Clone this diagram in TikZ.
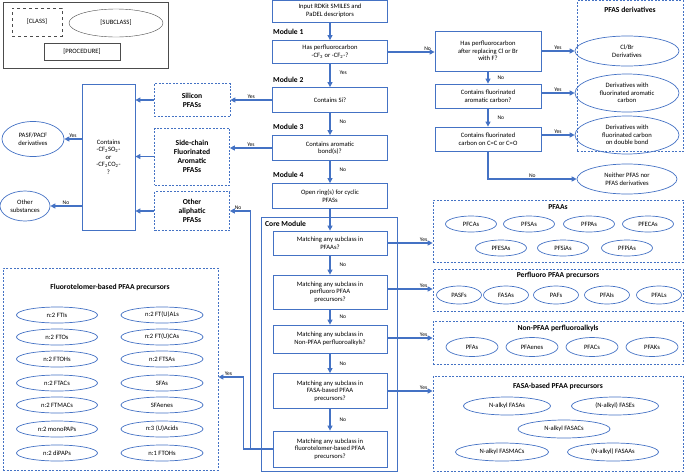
\documentclass[tikz,border=0pt]{standalone}
\usepackage{fontspec}
\setmainfont{Carlito}
\usetikzlibrary{arrows.meta,shapes.geometric}
\definecolor{bl}{RGB}{68,114,196}
\begin{document}
\begin{tikzpicture}[x=1pt,y=-1pt,
  every node/.style={font=\fontsize{6.6}{7.6}\selectfont,align=center,inner sep=1pt},
  box/.style={draw=bl,line width=0.8pt,rectangle},
  cls/.style={draw=bl,line width=0.7pt,dashed,dash pattern=on 2pt off 1.5pt,rectangle},
  el/.style={draw=bl,line width=0.7pt,ellipse,inner sep=0pt},
  hd/.style={font=\fontsize{7.6}{9}\selectfont\bfseries},
  ar/.style={draw=bl,line width=1.1pt,-{Triangle[width=5pt,length=5pt]}},
  lb/.style={font=\fontsize{5.6}{6.5}\selectfont}]
\useasboundingbox (0,0) rectangle (685,472);
% legend
\node[draw=black!70,line width=0.8pt,minimum width=165pt,minimum height=66pt] (lg) at (85.5,35) {};
\node[draw=black!70,dashed,minimum width=50pt,minimum height=28pt] (lc) at (37,22) {[CLASS]};
\node[draw=black!70,ellipse,minimum width=94pt,minimum height=28pt,inner sep=0pt] (ls) at (116,23) {[SUBCLASS]};
\node[draw=black!70,minimum width=76pt,minimum height=17pt] (lp) at (82,52) {[PROCEDURE]};
% main column
\node[box,minimum width=115pt,minimum height=22pt] (in) at (330,11) {Input RDKit SMILES and\\PaDEL descriptors};
\node[box,minimum width=115pt,minimum height=23pt] (m1) at (330,52) {Has perfluorocarbon\\-CF\textsubscript{3} or -CF\textsubscript{2}-?};
\node[box,minimum width=115pt,minimum height=25pt] (m2) at (330,100) {Contains Si?};
\node[box,minimum width=115pt,minimum height=25pt] (m3) at (330,148) {Contains aromatic\\bond(s)?};
\node[box,minimum width=115pt,minimum height=25pt] (m4) at (330,196) {Open ring(s) for cyclic\\PFASs};
\node[hd,anchor=west] (l1) at (272,32) {Module 1};
\node[hd,anchor=west] (l2) at (272,80) {Module 2};
\node[hd,anchor=west] (l3) at (272,127) {Module 3};
\node[hd,anchor=west] (l4) at (272,175) {Module 4};
\node[box,minimum width=136pt,minimum height=254pt] (core) at (329,344) {};
\node[hd,anchor=west] (lc5) at (264,224) {Core Module};
\node[box,minimum width=114pt,minimum height=24pt] (c1) at (330,243) {Matching any subclass in\\PFAAs?};
\node[box,minimum width=114pt,minimum height=34pt] (c2) at (330,292) {Matching any subclass in\\perfluoro PFAA\\precursors?};
\node[box,minimum width=114pt,minimum height=28pt] (c3) at (330,339) {Matching any subclass in\\Non-PFAA perfluoroalkyls?};
\node[box,minimum width=114pt,minimum height=35pt] (c4) at (330,391) {Matching any subclass in\\FASA-based PFAA\\precursors?};
\node[box,minimum width=114pt,minimum height=36pt] (c5) at (330,449) {Matching any subclass in\\fluorotelomer-based PFAA\\precursors?};
\draw[ar] (in) -- (m1);
\draw[ar] (m1) -- node[lb,right,pos=0.4,xshift=8pt]{Yes} (m2);
\draw[ar] (m2) -- node[lb,right,pos=0.4,xshift=8pt]{No} (m3);
\draw[ar] (m3) -- node[lb,right,pos=0.4,xshift=8pt]{No} (m4);
\draw[ar] (m4) -- (c1);
\draw[ar] (c1) -- node[lb,right,xshift=8pt]{No} (c2);
\draw[ar] (c2) -- node[lb,right,xshift=8pt]{No} (c3);
\draw[ar] (c3) -- node[lb,right,xshift=8pt]{No} (c4);
\draw[ar] (c4) -- node[lb,right,xshift=8pt]{No} (c5);
% right branch
\node[box,minimum width=106pt,minimum height=40pt] (r1) at (488,51) {Has perfluorocarbon\\after replacing Cl or Br\\with F?};
\node[box,minimum width=106pt,minimum height=24pt] (r2) at (488,96) {Contains fluorinated\\aromatic carbon?};
\node[box,minimum width=106pt,minimum height=24pt] (r3) at (488,139) {Contains fluorinated\\carbon on C=C or C=O};
\node[cls,minimum width=106pt,minimum height=151pt] (pd) at (630,76) {};
\node[hd] (pdt) at (630,10) {PFAS derivatives};
\node[el,minimum width=104pt,minimum height=30pt] (e1) at (627,51) {Cl/Br\\Derivatives};
\node[el,minimum width=104pt,minimum height=38pt] (e2) at (627,93) {Derivatives with\\fluorinated aromatic\\carbon};
\node[el,minimum width=104pt,minimum height=38pt] (e3) at (627,135) {Derivatives with\\fluorinated carbon\\on double bond};
\node[el,minimum width=100pt,minimum height=30pt] (e4) at (627,179) {Neither PFAS nor\\PFAS derivatives};
\draw[ar] (m1.east) -- node[lb,above,pos=0.85]{No} (r1.west |- m1.east);
\draw[ar] (r1.east) -- node[lb,above]{Yes} (e1.west);
\draw[ar] (r2.east |- e2.west) -- node[lb,above]{Yes} (e2.west);
\draw[ar] (r3.east |- e3.west) -- node[lb,above]{Yes} (e3.west);
\draw[ar] (r1) -- node[lb,right,xshift=8pt]{No} (r2);
\draw[ar] (r2) -- node[lb,right,xshift=8pt]{No} (r3);
\draw[ar] (r3.south) |- node[lb,above,pos=0.75]{No} (e4.west);
% left side
\node[cls,minimum width=76pt,minimum height=33pt,hd] (si) at (192,100) {Silicon\\PFASs};
\node[cls,minimum width=75pt,minimum height=57pt,hd] (sc) at (192,156.5) {Side-chain\\Fluorinated\\Aromatic\\PFASs};
\node[cls,minimum width=75pt,minimum height=39pt,hd] (oa) at (192,211) {Other\\aliphatic\\PFASs};
\node[box,minimum width=53pt,minimum height=146pt] (ct) at (108.5,157) {Contains\\-CF\textsubscript{2}SO\textsubscript{2}-\\or\\-CF\textsubscript{2}CO\textsubscript{2}-\\?};
\node[el,minimum width=62pt,minimum height=35pt] (pa) at (33,139) {PASF/PACF\\derivatives};
\node[el,minimum width=50pt,minimum height=30pt] (os) at (25,206) {Other\\substances};
\draw[ar] (m2.west) -- node[lb,above]{Yes} (si.east);
\draw[ar] (m3.west) -- node[lb,above]{Yes} (m3.west -| sc.east);
\draw[ar] (si.west) -- (si.west -| ct.east);
\draw[ar] (sc.west) -- (sc.west -| ct.east);
\draw[ar] (oa.west) -- (oa.west -| ct.east);
\draw[ar] (ct.west |- pa.east) -- node[lb,above]{Yes} (pa.east);
\draw[ar] (ct.west |- os.east) -- node[lb,above]{No} (os.east);
\draw[ar] (c5.west) -- ++(-22,0) |- node[lb,above,pos=0.8]{No} (oa.east);
% class frames right
\node[cls,minimum width=250pt,minimum height=62pt] (pf) at (558,231) {};
\node[hd] (pft) at (558,207) {PFAAs};
\foreach \n/\x/\y in {PFCAs/471/224,PFSAs/529/224,PFPAs/589/224,PFECAs/648/224,PFESAs/501/248,PFSiAs/563/248,PFPiAs/627/248}
  \node[el,minimum width=51pt,minimum height=16pt] (\n) at (\x,\y) {\n};
\node[cls,minimum width=250pt,minimum height=42pt] (pp) at (558,290) {};
\node[hd] (ppt) at (558,275) {Perfluoro PFAA precursors};
\foreach \n/\x in {PASFs/459,FASAs/506,PAFs/556,PFAIs/607,PFALs/659}
  \node[el,minimum width=45pt,minimum height=18pt] (\n) at (\x,295) {\n};
\node[cls,minimum width=250pt,minimum height=43pt] (np) at (558,342.5) {};
\node[hd] (npt) at (558,328) {Non-PFAA perfluoroalkyls};
\foreach \n/\x in {PFAs/472,PFAenes/532,PFACs/592,PFAKs/652}
  \node[el,minimum width=52pt,minimum height=19pt] (\n) at (\x,347) {\n};
\node[cls,minimum width=250pt,minimum height=95pt] (fa) at (558,423.5) {};
\node[hd] (fat) at (558,386) {FASA-based PFAA precursors};
\node[el,minimum width=87pt,minimum height=18pt] (f1) at (507,406) {N-alkyl FASAs};
\node[el,minimum width=87pt,minimum height=18pt] (f2) at (615,406) {(N-alkyl) FASEs};
\node[el,minimum width=92pt,minimum height=18pt] (f3) at (564,429) {N-alkyl FASACs};
\node[el,minimum width=93pt,minimum height=18pt] (f4) at (502,452) {N-alkyl FASMACs};
\node[el,minimum width=91pt,minimum height=18pt] (f5) at (613,452) {(N-alkyl) FASAAs};
\draw[ar] (c1.east) -- node[lb,above,pos=0.8]{Yes} (c1.east -| pf.west);
\draw[ar] ([yshift=3pt]c2.east) -- node[lb,above,pos=0.8]{Yes} ([yshift=3pt]c2.east -| pp.west);
\draw[ar] ([yshift=1pt]c3.east) -- node[lb,above,pos=0.8]{Yes} ([yshift=1pt]c3.east -| np.west);
\draw[ar] (c4.east) -- node[lb,above,pos=0.8]{Yes} (c4.east -| fa.west);
% fluorotelomer
\node[cls,minimum width=215pt,minimum height=202pt] (ft) at (110.5,369) {};
\node[hd] (ftt) at (110,287) {Fluorotelomer-based PFAA precursors};
\foreach \i/\a/\b/\y in {1/n:2 FTIs/n:2 FT(U)ALs/315,2/n:2 FTOs/n:2 FT(U)CAs/337,3/n:2 FTOHs/n:2 FTSAs/359,4/n:2 FTACs/SFAs/383,5/n:2 FTMACs/SFAenes/405,6/n:2 monoPAPs/n:3 (U)Acids/429,7/n:2 diPAPs/n:1 FTOHs/453}{
  \node[el,minimum width=81pt,minimum height=16pt] (fl\i) at (57,\y) {\a};
  \node[el,minimum width=82pt,minimum height=16pt] (fr\i) at (162,\y) {\b};}
\draw[ar] (c5.west) -- ++(-29,0) |- node[lb,above,pos=0.8]{Yes} ([yshift=-8pt]ft.east);
\end{tikzpicture}
\end{document}
